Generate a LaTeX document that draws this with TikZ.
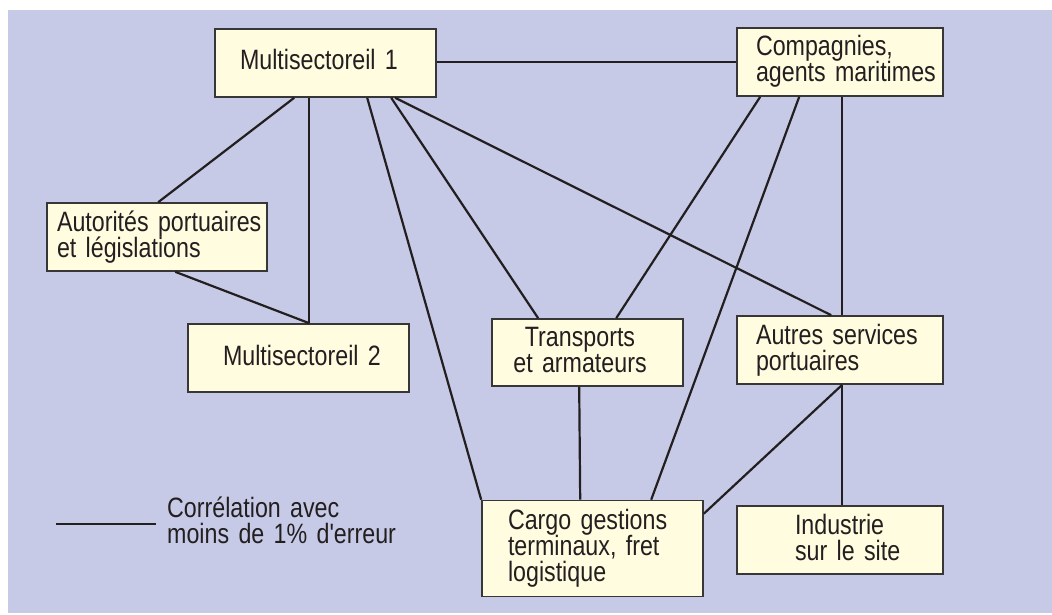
\documentclass[tikz,border=0pt]{standalone}
\usepackage{fontspec}
\setmainfont{Liberation Sans}[FakeStretch=0.83, Ligatures=TeXOff]
\usetikzlibrary{calc}
\definecolor{bgcol}{RGB}{198,202,230}
\definecolor{boxfill}{RGB}{255,252,224}
\definecolor{boxline}{RGB}{55,55,55}
\definecolor{linecol}{RGB}{35,31,32}
\begin{document}
\begin{tikzpicture}[x=1pt,y=-1pt,
  txt/.style={font={\fontsize{28}{26}\selectfont\lineskiplimit=-50pt\hyphenpenalty=10000\exhyphenpenalty=10000\hbadness=10000\hfuzz=100pt}, text=linecol},
  box/.style={txt, draw=boxline, fill=boxfill, line width=1.6pt, inner ysep=0pt,
    minimum height=68pt, text height=20pt, text depth=6pt, align=left},
  two/.style={text depth=32pt},
  three/.style={text depth=58pt},
  conn/.style={draw=linecol, line width=2.2pt}]
\useasboundingbox (0,0) rectangle (1052,615);
\fill[bgcol] (8,10) rectangle (1052,613);

\node[box, minimum width=221pt, inner xsep=25pt, text width=171pt] (m1) at (325.5,63) {\mbox{Multisectoreil 1}};
\node[box, two, minimum width=206pt, inner xsep=19pt, text width=168pt] (comp) at (840,62) {\mbox{Compagnies,}\\\mbox{agents maritimes}};
\node[box, two, minimum width=220pt, inner xsep=10pt, text width=200pt] (aut) at (157,237) {\mbox{Autorités portuaires}\\\mbox{et législations}};
\node[box, minimum width=221pt, inner xsep=35pt, text width=151pt] (m2) at (298.5,358) {\mbox{Multisectoreil 2}};
\node[box, two, minimum width=191pt, minimum height=67pt, inner xsep=8pt, text width=175pt, align=center] (trans) at (587.5,352.5) {\mbox{Transports\kern15pt}\\\mbox{et armateurs\kern15pt}};
\node[box, two, minimum width=206pt, inner xsep=19pt, text width=168pt] (autres) at (840,350) {\mbox{Autres services}\\\mbox{portuaires}};
\node[box, three, minimum width=221pt, minimum height=96pt, inner xsep=26pt, text width=169pt] (cargo) at (592.5,548.5) {\mbox{Cargo gestions}\\\mbox{terminaux, fret}\\\mbox{logistique}};
\node[box, two, minimum width=206pt, inner xsep=58pt, text width=90pt] (ind) at (840,540) {\mbox{Industrie}\\\mbox{sur le site}};

\draw[conn] (comp.west -| m1.east) -- (comp.west);
\draw[conn] ([xshift=80pt]m1.south west) -- ([xshift=112pt]aut.north west);
\draw[conn] ([xshift=95pt]m1.south west) -- ([xshift=122pt]m2.north west);
\draw[conn] ([xshift=129pt]aut.south west) -- ([xshift=122pt]m2.north west);
\draw[conn] ([xshift=153pt]m1.south west) -- (cargo.north west);
\draw[conn] ([xshift=177pt]m1.south west) -- ([xshift=47pt]trans.north west);
\draw[conn] ([xshift=181pt]m1.south west) -- ([xshift=95pt]autres.north west);
\draw[conn] ([xshift=24pt]comp.south west) -- ([xshift=125pt]trans.north west);
\draw[conn] ([xshift=63pt]comp.south west) -- ([xshift=170pt]cargo.north west);
\draw[conn] ([xshift=106pt]comp.south west) -- ([xshift=106pt]autres.north west);
\draw[conn] ([xshift=88pt]trans.south west) -- ([xshift=99pt]cargo.north west);
\draw[conn] ([xshift=106pt]autres.south west) -- ([yshift=-14pt]cargo.north east);
\draw[conn] ([xshift=106pt]autres.south west) -- ([xshift=106pt]ind.north west);

\coordinate (legA) at (56,524);
\coordinate (legB) at (156,524);
\draw[conn, line width=2.5pt] (legA) -- (legB);
\node[txt, anchor=base west, inner sep=0pt, text width=260pt, align=left] (legtxt) at (167,517) {\mbox{Corrélation avec}\\\mbox{moins de 1\% d'erreur}};
\end{tikzpicture}
\end{document}
